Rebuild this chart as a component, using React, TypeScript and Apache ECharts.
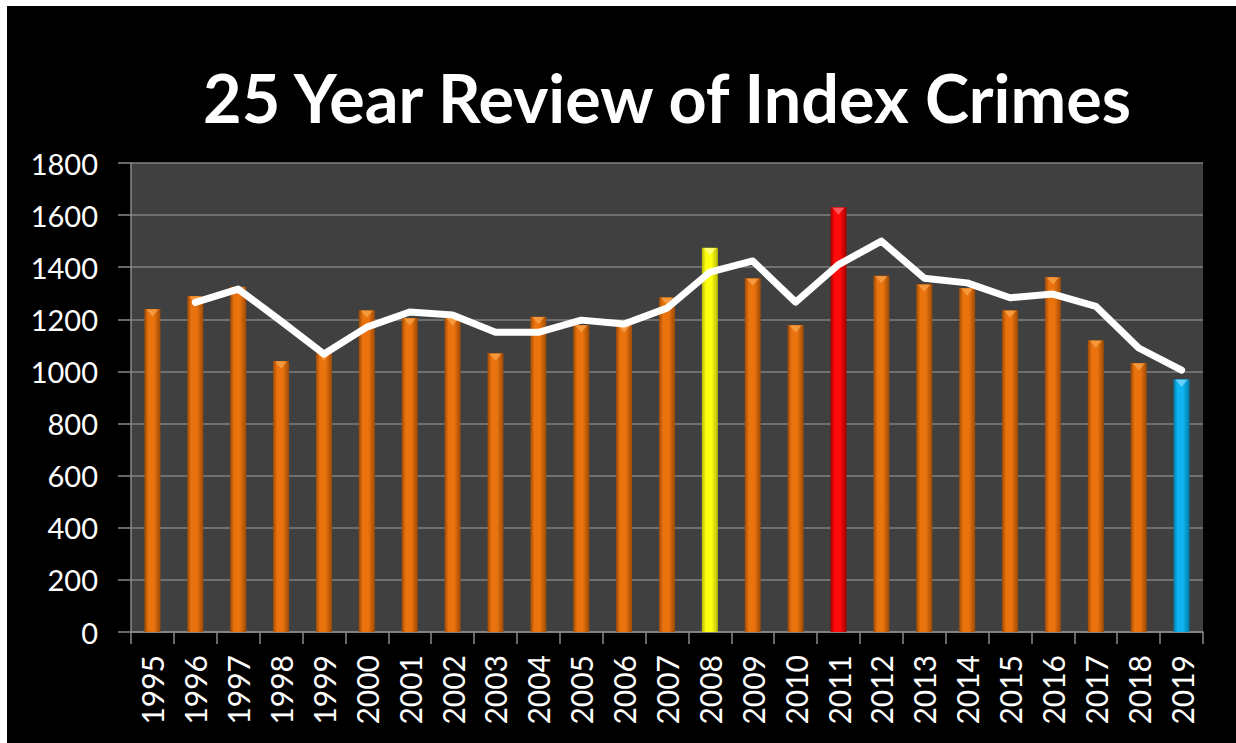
import React, { useEffect, useRef } from "react";
import * as echarts from "echarts";

const years = ["1995","1996","1997","1998","1999","2000","2001","2002","2003","2004","2005","2006","2007","2008","2009","2010","2011","2012","2013","2014","2015","2016","2017","2018","2019"];
const crimes = [1240,1290,1325,1040,1070,1235,1205,1205,1070,1210,1178,1178,1285,1475,1358,1178,1630,1367,1335,1320,1235,1362,1120,1032,970];
const trend: (number | null)[] = [null,1265,1316,1193,1067,1170,1228,1217,1150,1150,1197,1182,1243,1381,1424,1266,1410,1500,1358,1340,1283,1297,1250,1090,1005];
const highlight: Record<string, string> = { "2008": "yellow", "2011": "red", "2019": "blue" };
const yTicks = [0, 200, 400, 600, 800, 1000, 1200, 1400, 1600, 1800];

const palette: Record<string, { edge: string; mid: string; top: string }> = {
  orange: { edge: "#9c4a06", mid: "#ea730e", top: "#f9a24a" },
  yellow: { edge: "#b8b800", mid: "#ffff10", top: "#ffff90" },
  red: { edge: "#a00000", mid: "#ff0a0a", top: "#ff6a6a" },
  blue: { edge: "#0078a8", mid: "#10b4f0", top: "#7ad8ff" },
};

function grad(c: { edge: string; mid: string }) {
  return new echarts.graphic.LinearGradient(0, 0, 1, 0, [
    { offset: 0, color: c.edge },
    { offset: 0.25, color: c.mid },
    { offset: 0.6, color: c.mid },
    { offset: 1, color: c.edge },
  ]);
}

export default function App() {
  const ref = useRef<HTMLDivElement>(null);
  useEffect(() => {
    if (!ref.current) return;
    const chart = echarts.init(ref.current, null, { renderer: "svg" });
    const font = "Lato";
    const barData = crimes.map((v, i) => {
      const c = palette[highlight[years[i]] || "orange"];
      return { value: v, itemStyle: { color: grad(c) } };
    });
    const topData = crimes.map((v, i) => {
      const c = palette[highlight[years[i]] || "orange"];
      return { value: v, itemStyle: { color: c.top } };
    });
    chart.setOption({
      animation: false,
      backgroundColor: "#ffffff",
      graphic: [
        { type: "rect", z: -10, shape: { x: 7, y: 6, width: 1229, height: 737 }, style: { fill: "#000000" } },
      ],
      title: {
        text: "25 Year Review of Index Crimes",
        left: 662,
        textAlign: "center",
        top: 58,
        textStyle: { color: "#ffffff", fontFamily: font, fontWeight: "bold", fontSize: 66.5 },
      },
      grid: { left: 131, top: 163, right: 33, bottom: 111, backgroundColor: "#404040", show: true, borderWidth: 0 },
      xAxis: {
        type: "category",
        data: years,
        axisLine: { show: true, lineStyle: { color: "#8a8a8a", width: 1.5 } },
        axisTick: { show: true, interval: 0, length: 12, lineStyle: { color: "#8a8a8a", width: 1.5 } },
        axisLabel: { rotate: 90, margin: 23, color: "#ffffff", fontFamily: font, fontSize: 30, interval: 0 },
      },
      yAxis: {
        type: "value",
        min: 0,
        max: 1800,
        interval: 200,
        axisLine: { show: true, lineStyle: { color: "#8a8a8a", width: 1.5 } },
        axisTick: { show: true, length: 13, lineStyle: { color: "#8a8a8a", width: 1.5 } },
        axisLabel: { margin: 33, color: "#ffffff", fontFamily: font, fontSize: 29, customValues: yTicks, formatter: (v: number) => String(v) },
        splitLine: { show: true, lineStyle: { color: "#808080", width: 1.5 } },
      },
      series: [
        { type: "bar", data: barData, barWidth: 16, z: 2 },
        {
          type: "scatter",
          data: topData,
          symbol: "triangle",
          symbolRotate: 180,
          symbolSize: [12, 7],
          symbolOffset: [0, 4],
          z: 3,
          silent: true,
        },
        {
          type: "line",
          data: trend,
          symbol: "none",
          lineStyle: { color: "#ffffff", width: 7, cap: "round", join: "round" },
          z: 5,
        },
      ],
    });
    return () => chart.dispose();
  }, []);
  return (
    <div style={{ position: "absolute", left: 0, top: 0, width: 1236, height: 743 }}>
      <div ref={ref} style={{ width: 1236, height: 743 }} />
    </div>
  );
}
